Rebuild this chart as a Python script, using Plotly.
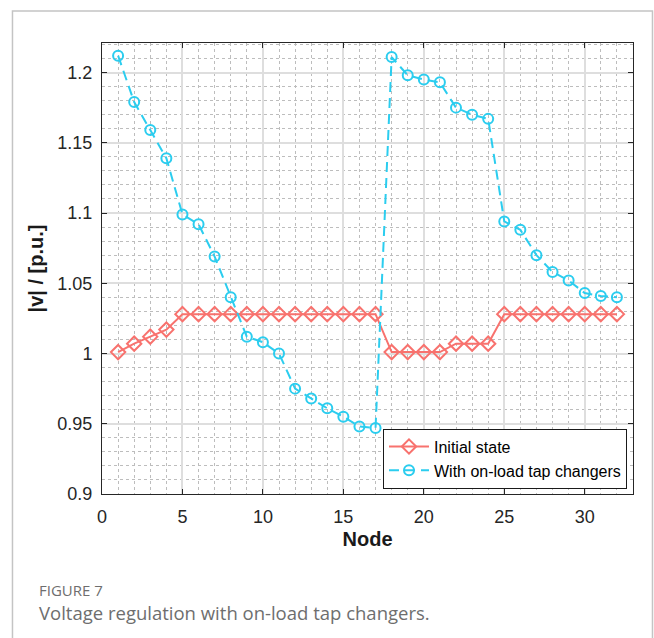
import plotly.graph_objects as go

nodes = list(range(1, 33))
initial_state = [1.001, 1.007, 1.012, 1.017, 1.028, 1.028, 1.028, 1.028, 1.028, 1.028,
                 1.028, 1.028, 1.028, 1.028, 1.028, 1.028, 1.028, 1.001, 1.001, 1.001,
                 1.001, 1.007, 1.007, 1.007, 1.028, 1.028, 1.028, 1.028, 1.028, 1.028,
                 1.028, 1.028]
with_oltc = [1.212, 1.179, 1.159, 1.139, 1.099, 1.092, 1.069, 1.040, 1.012, 1.008,
             1.000, 0.975, 0.968, 0.961, 0.955, 0.948, 0.947, 1.211, 1.198, 1.195,
             1.193, 1.175, 1.170, 1.167, 1.094, 1.088, 1.070, 1.058, 1.052, 1.043,
             1.041, 1.040]
x_ticks = [0, 5, 10, 15, 20, 25, 30]
y_ticks = [0.9, 0.95, 1.0, 1.05, 1.1, 1.15, 1.2]
y_tick_labels = ["0.9", "0.95", "1", "1.05", "1.1", "1.15", "1.2"]

RED = "#F8726E"
CYAN = "#2BCDEF"
AX = "#262626"

fig = go.Figure()
fig.add_trace(go.Scatter(
    x=nodes, y=initial_state, mode="lines+markers", name="Initial state",
    line=dict(color=RED, width=2),
    marker=dict(symbol="diamond-open", size=11, color=RED, line=dict(width=2, color=RED)),
))
fig.add_trace(go.Scatter(
    x=nodes, y=with_oltc, mode="lines+markers", name="With on-load tap changers",
    line=dict(color=CYAN, width=2, dash="10px,6px"),
    marker=dict(symbol="circle-open", size=10, color=CYAN, line=dict(width=2, color=CYAN)),
))

axis_common = dict(
    showline=True, linecolor=AX, linewidth=1, mirror="ticks",
    ticks="inside", ticklen=5, tickcolor=AX, tickwidth=1,
    showgrid=True, gridcolor="#DEDEDE", gridwidth=1.5,
    zeroline=False, automargin=False,
    tickfont=dict(family="Liberation Sans, Arial, sans-serif", size=18, color="#262626"),
)

fig.update_xaxes(
    range=[0, 33], tickvals=x_ticks,
    minor=dict(dtick=1, tick0=0, showgrid=True, gridcolor="#BDBDBD", griddash="dot", gridwidth=1),
    title=dict(text="<b>Node</b>", font=dict(family="Liberation Sans, Arial, sans-serif", size=20, color="#1a1a1a"), standoff=6),
    ticklabelstandoff=6,
    **axis_common,
)
fig.update_yaxes(
    range=[0.9, 1.221], tickvals=y_ticks, ticktext=y_tick_labels,
    minor=dict(dtick=0.01, tick0=0.9, showgrid=True, gridcolor="#BDBDBD", griddash="dot", gridwidth=1),
    title=dict(text="<b>|v| / [p.u.]</b>", font=dict(family="Liberation Sans, Arial, sans-serif", size=20, color="#1a1a1a"), standoff=8),
    ticklabelstandoff=5,
    **axis_common,
)

fig.update_layout(
    width=654, height=638,
    margin=dict(l=102, r=21, t=43, b=144, autoexpand=False),
    paper_bgcolor="white", plot_bgcolor="white",
    showlegend=True,
    legend=dict(
        x=0.9887, y=0.012, xanchor="right", yanchor="bottom",
        bgcolor="white", bordercolor="#1a1a1a", borderwidth=1,
        font=dict(family="Liberation Sans, Arial, sans-serif", size=16, color="#000"),
        itemwidth=40, tracegroupgap=0,
    ),
    shapes=[dict(
        type="rect", xref="paper", yref="paper",
        x0=-0.1686, x1=1.0367, y0=-0.33, y1=1.0710,
        line=dict(color="#C4C4C4", width=1.5), fillcolor="rgba(0,0,0,0)", layer="below",
    )],
    annotations=[
        dict(text="FIGURE 7", xref="paper", yref="paper", x=-0.1215, y=(494 - 590) / 451,
             xanchor="left", yanchor="middle", showarrow=False,
             font=dict(family="Open Sans, sans-serif", size=15, color="#6E6E6E")),
        dict(text="Voltage regulation with on-load tap changers.", xref="paper", yref="paper",
             x=-0.1215, y=(494 - 612) / 451, xanchor="left", yanchor="middle", showarrow=False,
             font=dict(family="Open Sans, sans-serif", size=18.5, color="#6E6E6E")),
    ],
)

fig.write_html("out.html", config={"displayModeBar": False},
               post_script="document.body.style.margin='0';document.body.style.overflow='hidden';")
